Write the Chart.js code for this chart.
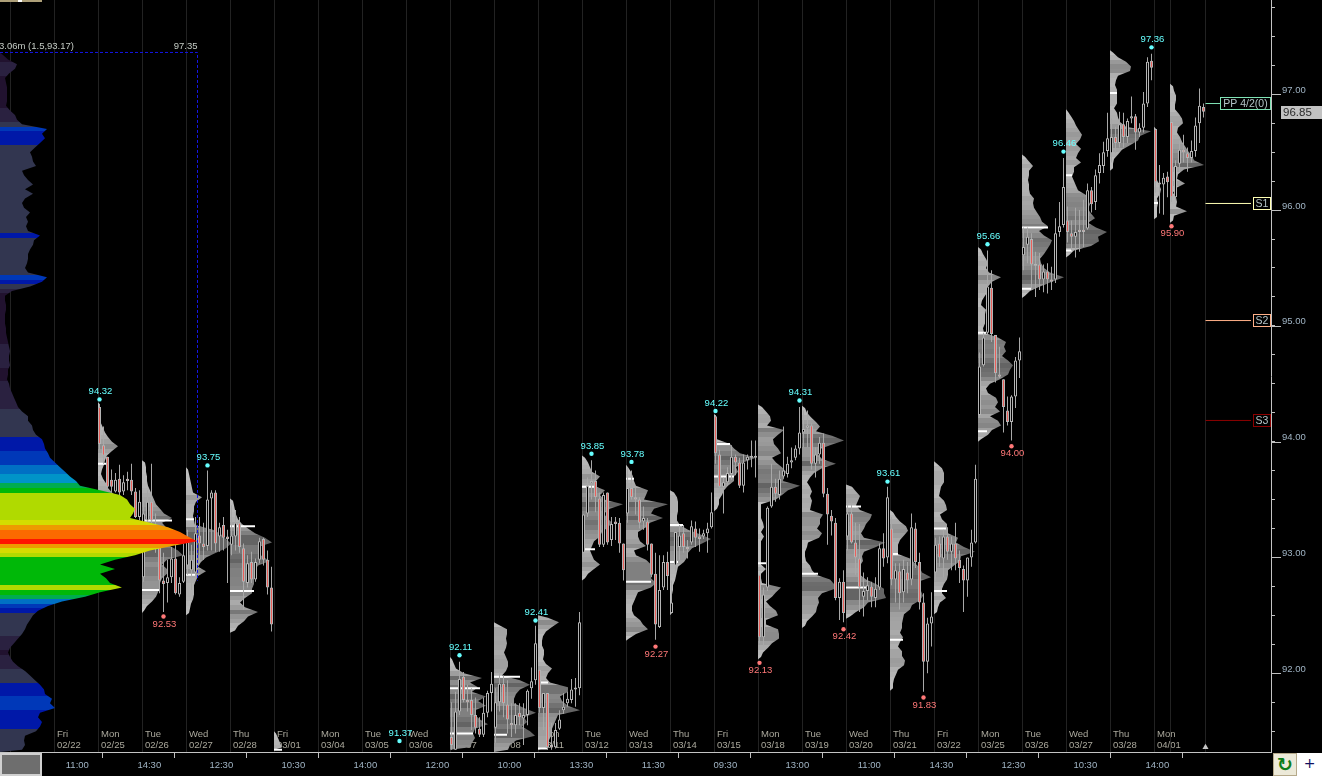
<!DOCTYPE html>
<html>
<head>
<meta charset="utf-8">
<title>Volume profile</title>
<script src="https://cdn.jsdelivr.net/npm/chart.js@4"></script>
<style>
  html, body { margin:0; padding:0; background:#000; overflow:hidden; }
  #wrap { position:relative; width:1322px; height:776px; }
  canvas { position:absolute; left:0; top:0; }
  .w { position:absolute; box-sizing:border-box; }
</style>
</head>
<body>
<div id="wrap">
  <canvas id="chart" width="1322" height="776" style="width:1322px;height:776px"></canvas>
  <div class="w" style="left:0;top:0;width:42px;height:2px;background:#ad9f78"></div>
  <div class="w" style="left:18px;top:0;width:4px;height:2px;background:#fff"></div>
  <div class="w" style="left:0;top:753px;width:42px;height:23px;background:#6e6e6e;border:2px solid #d0d0d0"></div>
  <div class="w" style="left:1273px;top:753px;width:24px;height:23px;background:#ece9d8;border:1px solid #b5a98a;color:#0d7d1a;font:bold 19px 'DejaVu Sans';text-align:center;line-height:21px">↻</div>
  <div class="w" style="left:1297px;top:753px;width:25px;height:23px;background:#fff;color:#101060;font:14px 'DejaVu Sans';text-align:center;line-height:21px">+</div>
</div>

<script>
// ===============================
// DATA
// ===============================
const sessionDays = ["Fri","Mon","Tue","Wed","Thu","Fri","Mon","Tue","Wed","Thu","Fri","Mon","Tue","Wed","Thu","Fri","Mon","Tue","Wed","Thu","Fri","Mon","Tue","Wed","Thu","Mon"];
const sessionDates = ["02/22","02/25","02/26","02/27","02/28","03/01","03/04","03/05","03/06","03/07","03/08","03/11","03/12","03/13","03/14","03/15","03/18","03/19","03/20","03/21","03/22","03/25","03/26","03/27","03/28","04/01"];
const separatorBars = [-0.25,10.75,21.75,32.75,43.75,54.75,65.75,76.75,87.75,98.75,109.75,120.75,131.75,142.75,153.75,164.75,175.75,186.75,197.75,208.75,219.75,230.75,241.75,252.75,263.75,274.75,285.75,289.75,298.5];
const timeTickBars = [13.7,31.7,49.7,67.7,85.7,103.7,121.7,139.7,157.7,175.7,193.7,211.7,229.7,247.7,265.7,283.7];
const timeTickLabels = ["11:00","14:30","12:30","10:30","14:00","12:00","10:00","13:30","11:30","09:30","13:00","11:00","14:30","12:30","10:30","14:00"];

// composite volume profile, one value per 0.04 of price going down from compositeTop
const compositeTop = 97.34;
const compositeVol = [3,8,17,15,9,5,6,7,7,7,7,6,10,15,17,22,47,42,45,40,35,30,32,33,36,22,24,28,33,25,33,25,22,24,30,26,28,26,28,40,34,33,30,28,28,27,25,28,47,42,30,12,5,5,6,6,5,5,5,6,6,7,8,9,10,9,9,10,8,8,7,9,10,12,14,16,18,22,28,28,32,33,36,42,44,45,48,50,55,60,65,70,76,80,100,120,127,130,135,133,130,150,168,180,188,197,172,150,135,115,100,115,100,106,110,122,100,85,62,48,38,33,30,27,25,22,18,14,10,8,10,13,18,25,30,35,40,44,45,52,50,55,40,38,42,40,36,25,24,25,22];

// session profiles, same 0.04 rows
const profFeb25 = [2,2,2,2,3,5,7,10,14,20,14,9,7,6,4,3,5,8,10,14,20,26,30,32,30,34,30];
const profFeb26 = [3,4,4,5,5,6,8,10,12,14,18,22,30,20,24,26,28,26,28,36,41,25,20,25,25,20,18,18,16,14,10,5,2];
const profFeb27 = [2,3,4,5,6,7,16,10,8,8,7,8,9,27,35,40,45,40,30,20,15,12,20,12,10,8,8,8,7,5,4,3];
const profFeb28 = [3,4,5,6,8,12,18,25,35,42,28,28,32,40,28,25,25,24,24,22,22,15,10,15,28,18,14,8,5];
const profMar01 = [2,4,6,8];
const profMar07 = [2,4,6,14,32,20,28,22,36,28,36,25,25,30,38,25,23,25,22,20];
const profMar08 = [4,13,13,12,13,12,10,12,14,14,12,8,26,36,26,22,20,20,30,42,30,33,28,36,41,22,16,14];
const profMar11 = [10,21,14,8,5,4,4,6,6,5,8,14,10,8,12,30,30,22,24,30,42,20,18,16,14,14,12,10,10];
const profMar12 = [3,6,8,10,18,14,12,23,18,22,41,28,22,25,30,26,20,18,12,10,8,10,12,18,12,6,3];
const profMar13 = [2,5,7,8,10,22,20,18,42,28,25,37,24,20,12,12,14,20,8,10,20,25,25,25,25,30,25,12,10,8,6,6,8,14,17,22,10,3];
const profMar14 = [4,7,8,8,8,7,7,10,18,30,41,32,22,18,17,14,8,7,6,5,3,3,2,2,2,2,2];
const profMar15 = [2,2,2,2,2,3,16,20,26,42,29,22,24,20,20,14,10,8,5,5,3];
const profMar18 = [4,8,12,13,9,26,20,15,16,20,23,14,18,24,28,26,25,42,30,24,18,3,3,3,3,5,6,3,6,3,3,3,3,3,3,8,3,3,4,23,18,14,8,12,18,20,8,8,20,21,21,14,10,5,3];
const profMar19 = [3,5,9,14,18,14,30,42,28,16,16,20,34,20,12,8,5,8,10,8,10,9,8,21,18,18,15,20,17,6,5,3,3,4,8,10,14,28,32,33,20,16,17,15,14,10,5,3];
const profMar20 = [6,10,14,12,10,14,26,24,20,18,15,18,39,30,18,16,17,14,12,14,20,30,38,38,40,22,18,10,4];
const profMar21 = [3,6,10,16,18,14,10,8,8,8,20,25,30,32,41,28,28,31,33,30,22,20,14,13,12,12,10,13,10,8,12,12,15,14,8,6,4,3,3];
const profMar22 = [3,8,10,10,10,7,6,5,10,12,13,6,8,13,13,14,24,22,30,41,27,26,20,14,14,13,10,8,8,12,6,4,3];
const profMar25 = [3,5,8,10,8,11,23,14,10,10,7,4,3,8,7,7,7,5,6,20,28,26,28,24,30,35,32,30,22,12,8,10,18,20,17,22,12,20,23,14,10,3];
const profMar26 = [3,7,11,7,7,6,7,7,8,12,11,12,15,18,20,26,17,22,30,28,25,22,18,19,22,28,42,30,18,8,3];
const profMar27 = [2,5,8,10,13,16,14,10,15,12,10,15,8,8,6,8,10,12,20,22,24,22,25,29,22,30,41,32,33,25,8,3];
const profMar28 = [3,8,16,21,20,8,6,5,7,7,7,7,4,7,8,10,16,41,30,28,20,12,8,4,3,3];
const profMar29 = [2,2,2,2,2,2,2,2,2,2,2,3,5,7,6,3,4,3,3,3];
const profApr01 = [3,4,6,6,5,5,9,12,13,8,7,10,12,15,18,22,24,34,14,8,7,15,6,3,6,7,6,17,4,3];

// candles as open, high, low, close
const barsFeb25 = [[94.30,94.32,93.93,93.98],[93.97,94.13,93.81,93.88],[93.87,93.87,93.58,93.61],[93.67,93.76,93.56,93.61],[93.57,93.73,93.56,93.67],[93.68,93.80,93.47,93.56],[93.57,93.71,93.54,93.65],[93.68,93.74,93.58,93.66],[93.67,93.81,93.54,93.57],[93.57,93.60,93.34,93.35],[93.35,93.58,93.32,93.48]];
const barsFeb26 = [[92.83,93.52,92.79,93.38],[93.32,93.58,93.28,93.48],[93.48,93.81,93.25,93.32],[93.15,93.38,93.04,93.24],[93.12,93.15,92.69,92.80],[92.80,93.04,92.53,92.77],[92.78,92.98,92.61,92.83],[92.83,93.09,92.78,92.99],[92.99,93.12,92.68,92.69],[92.68,92.83,92.66,92.78],[92.79,93.12,92.78,93.02]];
const barsFeb27 = [[92.93,93.24,92.85,93.15],[92.89,93.11,92.72,92.98],[92.87,93.35,92.83,93.21],[93.19,93.35,92.95,93.12],[93.12,93.30,92.98,93.09],[93.10,93.75,93.06,93.50],[93.51,93.58,93.06,93.56],[93.56,93.58,93.05,93.12],[93.18,93.30,93.05,93.26],[93.28,93.35,93.06,93.17],[93.18,93.24,92.78,93.16]];
const barsFeb28 = [[93.11,93.45,93.02,93.19],[93.18,93.41,93.06,93.30],[93.30,93.35,93.04,93.09],[93.08,93.12,92.55,92.79],[92.78,93.02,92.74,92.95],[92.96,93.05,92.78,92.81],[92.81,92.99,92.79,92.96],[92.98,93.17,92.95,93.14],[93.16,93.17,92.93,92.98],[92.98,93.06,92.68,92.74],[92.74,92.92,92.36,92.42]];
const barsMar07 = [[91.45,91.75,91.34,91.38],[91.34,91.84,91.34,91.67],[91.67,92.10,91.64,91.95],[91.97,92.01,91.75,91.77],[91.77,91.90,91.67,91.75],[91.77,91.87,91.51,91.64],[91.64,91.79,91.48,91.53],[91.52,91.62,91.45,91.47],[91.47,91.79,91.45,91.66],[91.66,91.85,91.62,91.83],[91.83,92.01,91.67,91.91]];
const barsMar08 = [[91.53,91.87,91.40,91.75],[91.75,92.01,91.67,91.91],[91.91,91.98,91.62,91.74],[91.73,91.94,91.48,91.60],[91.57,91.74,91.45,91.55],[91.55,91.74,91.48,91.64],[91.66,91.74,91.55,91.62],[91.61,91.74,91.38,91.64],[91.64,91.86,91.55,91.85],[91.87,92.05,91.78,91.93],[91.94,92.41,91.90,92.26]];
const barsMar11 = [[92.03,92.03,91.66,91.70],[91.70,91.83,91.51,91.83],[91.83,91.83,91.34,91.36],[91.38,91.57,91.34,91.36],[91.36,91.57,91.35,91.51],[91.52,91.68,91.51,91.60],[91.68,91.83,91.65,91.71],[91.74,91.84,91.71,91.78],[91.77,91.95,91.74,91.86],[91.86,91.96,91.71,91.87],[91.87,92.53,91.81,92.44]];
const barsMar12 = [[93.04,93.37,93.00,93.37],[93.38,93.69,93.35,93.62],[93.64,93.84,93.50,93.66],[93.66,93.75,93.39,93.52],[93.51,93.56,93.09,93.11],[93.11,93.56,93.09,93.54],[93.56,93.56,93.11,93.13],[93.15,93.35,93.10,93.29],[93.31,93.35,93.15,93.29],[93.30,93.34,93.04,93.12],[93.12,93.12,92.80,92.89]];
const barsMar13 = [[93.38,93.78,93.30,93.60],[93.60,93.75,93.50,93.52],[93.52,93.60,93.37,93.50],[93.50,93.52,93.25,93.30],[93.31,93.44,93.24,93.34],[93.31,93.34,93.06,93.11],[93.12,93.12,92.83,92.85],[92.86,93.04,92.29,92.42],[92.40,93.02,92.39,92.72],[92.74,93.02,92.72,92.96],[92.96,93.05,92.72,92.84]];
const barsMar14 = [[92.52,92.80,92.52,92.61],[92.93,93.22,92.88,93.22],[93.09,93.28,92.98,93.19],[93.21,93.28,93.04,93.09],[93.09,93.15,92.99,93.07],[93.13,93.32,93.11,93.27],[93.25,93.31,93.09,93.17],[93.18,93.25,93.05,93.16],[93.18,93.24,93.16,93.21],[93.21,93.30,93.04,93.25],[93.26,93.56,93.25,93.39]];
const barsMar15 = [[94.22,94.23,93.81,93.90],[93.89,93.93,93.56,93.61],[93.61,93.69,93.38,93.65],[93.65,93.78,93.62,93.73],[93.72,93.97,93.67,93.87],[93.87,93.89,93.71,93.82],[93.82,93.86,93.60,93.62],[93.62,93.89,93.56,93.82],[93.84,93.89,93.76,93.87],[93.87,94.01,93.78,93.86],[93.87,94.01,93.69,93.86]];
const barsMar18 = [[92.85,92.85,92.26,92.31],[92.31,92.74,92.23,92.68],[92.74,93.44,92.71,93.43],[93.44,93.81,93.43,93.61],[93.61,93.68,93.48,93.55],[93.54,93.75,93.50,93.68],[93.70,94.13,93.68,93.75],[93.72,93.87,93.69,93.81],[93.82,93.95,93.77,93.84],[93.86,93.97,93.84,93.94],[93.94,94.30,93.89,94.08]];
const barsMar19 = [[94.08,94.27,93.95,94.11],[94.12,94.27,93.95,94.14],[94.14,94.16,93.76,93.81],[93.81,93.95,93.69,93.89],[93.89,94.04,93.81,93.99],[93.99,94.07,93.52,93.55],[93.55,93.60,93.11,93.37],[93.36,93.41,93.19,93.31],[93.30,93.34,92.63,92.65],[92.65,92.82,92.46,92.79],[92.79,92.89,92.44,92.52]];
const barsMar20 = [[93.18,93.48,93.06,93.38],[93.38,93.48,93.12,93.13],[93.13,93.30,92.85,93.00],[92.99,93.29,92.53,92.74],[92.66,92.87,92.49,92.71],[92.71,92.83,92.63,92.76],[92.75,92.79,92.57,92.66],[92.65,92.83,92.57,92.73],[92.74,93.12,92.72,93.08],[93.08,93.21,92.92,92.99],[93.00,93.61,92.95,93.52]];
const barsMar21 = [[93.25,93.35,92.76,92.81],[92.81,92.95,92.61,92.89],[92.88,92.95,92.55,92.69],[92.70,92.98,92.61,92.90],[92.87,92.96,92.69,92.80],[92.81,93.38,92.76,93.26],[93.25,93.30,92.91,92.96],[92.96,93.04,92.55,92.61],[92.61,92.69,91.84,92.10],[92.10,92.48,92.00,92.43],[92.43,92.70,92.23,92.49]];
const barsMar22 = [[92.87,93.17,92.80,93.11],[93.12,93.18,92.92,93.00],[92.99,93.24,92.83,93.18],[93.18,93.26,92.98,93.05],[93.05,93.18,92.89,93.12],[93.12,93.30,92.89,92.99],[92.98,93.06,92.78,92.91],[92.90,92.93,92.53,92.80],[92.80,93.00,92.66,93.00],[93.00,93.24,92.92,93.13],[93.13,93.80,93.12,93.68]];
const barsMar25 = [[94.23,94.77,94.21,94.65],[94.66,94.94,94.65,94.90],[94.94,95.65,94.92,95.34],[95.33,95.48,94.86,94.93],[94.92,94.92,94.51,94.59],[94.58,94.82,94.55,94.56],[94.54,94.54,94.08,94.30],[94.27,94.39,94.14,94.17],[94.17,94.40,94.01,94.39],[94.39,94.73,94.29,94.70],[94.70,94.90,94.55,94.78]];
const barsMar26 = [[95.61,95.85,95.48,95.68],[95.70,95.85,95.54,95.77],[95.75,95.80,95.31,95.53],[95.53,95.64,95.25,95.52],[95.53,95.63,95.31,95.40],[95.40,95.53,95.29,95.47],[95.47,95.54,95.28,95.40],[95.40,95.51,95.31,95.38],[95.40,95.93,95.37,95.80],[95.81,96.07,95.77,95.86],[95.87,96.45,95.85,96.20]];
const barsMar27 = [[95.91,96.03,95.72,95.81],[95.80,95.91,95.65,95.77],[95.77,96.02,95.59,95.81],[95.83,96.00,95.64,95.81],[95.83,96.09,95.68,95.81],[95.84,96.23,95.83,96.17],[96.17,96.20,95.98,96.05],[96.07,96.35,96.00,96.30],[96.32,96.49,96.23,96.39],[96.38,96.59,96.32,96.50],[96.51,96.84,96.46,96.62]];
const barsMar28 = [[96.49,96.79,96.41,96.63],[96.63,96.72,96.49,96.58],[96.58,96.85,96.54,96.74],[96.74,96.84,96.54,96.63],[96.63,96.79,96.58,96.77],[96.79,96.98,96.75,96.81],[96.81,96.83,96.52,96.67],[96.67,96.75,96.63,96.71],[96.71,97.02,96.67,96.92],[96.92,97.32,96.89,97.28],[97.29,97.35,97.12,97.23]];
const barsMar29 = [[96.70,96.70,96.15,96.24],[96.23,96.39,95.97,96.22],[96.22,96.32,95.96,96.28],[96.29,96.33,96.11,96.24]];
const barsApr01 = [[96.76,96.76,96.07,96.11],[96.11,96.43,96.09,96.38],[96.40,96.60,96.33,96.52],[96.52,96.65,96.41,96.50],[96.49,96.54,96.33,96.45],[96.45,96.60,96.41,96.51],[96.51,96.80,96.46,96.73],[96.75,97.05,96.58,96.90],[96.89,96.92,96.80,96.85]];

// value area marks: session start bar, price, width
const markBars = [21.625,32.625,32.625,43.625,43.625,54.625,54.625,65.625,109.625,109.625,120.625,120.625,131.625,131.625,142.625,142.625,153.625,153.625,164.625,164.625,175.625,175.625,186.625,197.625,208.625,208.625,219.625,219.625,230.625,230.625,241.625,241.625,252.625,252.625,263.625,263.625,274.625,285.625,289.625];
const markPrices = [93.81,93.32,92.72,93.33,92.85,93.27,92.71,91.34,91.87,91.48,91.97,91.47,91.92,91.35,93.61,93.07,93.68,92.79,93.28,92.96,93.98,93.70,92.95,92.86,93.44,92.74,93.03,92.29,93.25,92.71,94.94,94.09,95.85,95.32,96.30,95.65,97.01,96.06,96.71];
const markWidths = [8,30,18,8,10,25,24,8,30,23,26,13,10,10,13,13,8,25,13,8,16,20,8,16,15,20,8,13,12,13,8,9,26,9,6,6,7,4,3];

// swing highs and lows
const highBars = [22,49,112,131,145,155,176,197,219,244,263,285,97];
const highPrices = [94.32,93.75,92.11,92.41,93.85,93.78,94.22,94.31,93.61,95.66,96.46,97.36,91.37];
const lowBars = [38,161,187,208,228,250,290];
const lowPrices = [92.53,92.27,92.13,92.42,91.83,94.00,95.90];

// pivot levels
const levelNames = ["PP 4/2(0)","S1","S2","S3"];
const levelPrices = [96.92,96.057,95.046,94.183];
const levelColors = ["#7fe3b5","#ffffb4","#ffb088","#8c0000"];
const lastPrice = 96.85;
const compositeHigh = 97.361;
const compositeLabel = "3.06m (1.5,93.17)";
const compositeHighLabel = "97.35";

// ===============================
// AXIS RANGE
// ===============================
const xMin = -2.875, xMax = 314.875;
const yMin = 91.32, yMax = 97.814;
const rowStep = 0.04;
const barsPerVol = 0.25;
const font = "9.5px 'Liberation Sans'";

// ===============================
// COLOURS
// ===============================
function sessionShade(v){
  let g = Math.max(100, Math.round(198 - v * 2.8));
  return `rgb(${g},${g},${g})`;
}

function compositeColor(v){
  if(v < 9) return "#21122f";
  if(v < 20) return "#2a2140";
  if(v < 38) return "#323650";
  if(v < 46) return "#0018a8";
  if(v < 58) return "#0038b8";
  if(v < 68) return "#0070c4";
  if(v < 80) return "#0094c8";
  if(v < 90) return "#00ac50";
  if(v < 118) return "#00b808";
  if(v < 140) return "#b0da00";
  if(v < 165) return "#d4dc00";
  if(v < 178) return "#ee9a00";
  if(v < 192) return "#fb6a00";
  return "#ff1400";
}

// ===============================
// DATASET BUILDERS
// ===============================
function profileDataset(startBar, top, vols, colorFn){
  let pts = [{x:startBar, y:top + rowStep / 2}];
  vols.forEach((v, i) => pts.push({x:startBar + v * barsPerVol, y:top - i * rowStep}));
  pts.push({x:startBar, y:top - (vols.length - 0.5) * rowStep});
  return {
    type:"line", data:pts, order: colorFn === compositeColor ? 30 : 50,
    borderWidth:0, pointRadius:0, tension:0,
    profileVols:vols, profileColor:colorFn
  };
}

const sessionProfiles = [
  [21.625,94.32,profFeb25],[32.625,93.82,profFeb26],[43.625,93.76,profFeb27],[54.625,93.49,profFeb28],
  [65.625,91.48,profMar01],[109.625,92.12,profMar07],[120.625,92.42,profMar08],[131.625,92.48,profMar11],
  [142.625,93.86,profMar12],[153.625,93.78,profMar13],[164.625,93.56,profMar14],[175.625,94.22,profMar15],
  [186.625,94.30,profMar18],[197.625,94.29,profMar19],[208.625,93.61,profMar20],[219.625,93.39,profMar21],
  [230.625,93.81,profMar22],[241.625,95.66,profMar25],[252.625,96.46,profMar26],[263.625,96.85,profMar27],
  [274.625,97.36,profMar28],[285.625,96.70,profMar29],[289.625,97.07,profApr01]
];

const candleBlocks = [
  [22,barsFeb25],[33,barsFeb26],[44,barsFeb27],[55,barsFeb28],[110,barsMar07],[121,barsMar08],[132,barsMar11],
  [143,barsMar12],[154,barsMar13],[165,barsMar14],[176,barsMar15],[187,barsMar18],[198,barsMar19],[209,barsMar20],
  [220,barsMar21],[231,barsMar22],[242,barsMar25],[253,barsMar26],[264,barsMar27],[275,barsMar28],[286,barsMar29],[290,barsApr01]
];

let wicks = [], bodies = [], bodyFill = [];
candleBlocks.forEach(([start, rows]) => {
  rows.forEach((r, i) => {
    wicks.push({x:start + i, y:[r[2], r[1]]});
    bodies.push({x:start + i, y:[Math.min(r[0], r[3]), Math.max(r[0], r[3])]});
    bodyFill.push(r[0] > r[3] ? "#ea5f5a" : "#000000");
  });
});

let separators = [];
separatorBars.forEach(b => separators.push({x:b, y:yMin}, {x:b, y:yMax}, {x:null, y:null}));

let marks = [];
markBars.forEach((b, i) => {
  marks.push({x:b, y:markPrices[i]}, {x:b + markWidths[i] * barsPerVol, y:markPrices[i]}, {x:null, y:null});
});

const levelStartBar = 298.5;
const levelSets = levelPrices.map((p, i) => ({
  type:"line", order:20, borderColor:levelColors[i], borderWidth:1, pointRadius:0,
  data:[{x:levelStartBar, y:p}, {x:i === 0 ? 302.125 : 309.875, y:p}]
}));

const datasets = [
  {type:"line", order:60, data:separators, borderColor:"#222222", borderWidth:1, pointRadius:0},
  ...sessionProfiles.map(s => profileDataset(s[0], s[1], s[2], sessionShade)),
  {type:"line", order:45, data:marks, borderColor:"#ffffff", borderWidth:2, pointRadius:0},
  {type:"bar", order:40, data:wicks, backgroundColor:"#a8a8a8", grouped:false, barPercentage:1, maxBarThickness:1, borderWidth:0, inflateAmount:0},
  {type:"bar", order:35, data:bodies, backgroundColor:bodyFill, borderColor:"#b4b4b4", borderWidth:1, borderSkipped:false, grouped:false, barPercentage:1, maxBarThickness:3, minBarLength:2, inflateAmount:0},
  profileDataset(xMin, compositeTop, compositeVol, compositeColor),
  {type:"line", order:20, borderColor:"#1414e6", borderWidth:1, borderDash:[3,2], pointRadius:0,
   data:[{x:xMin, y:compositeHigh}, {x:46.5, y:compositeHigh}, {x:46.5, y:92.80}]},
  ...levelSets,
  {type:"line", order:10, label:"highs", showLine:false, pointRadius:2.2, pointBackgroundColor:"#66ffff", pointBorderWidth:0,
   data:highBars.map((b, i) => ({x:b, y:highPrices[i] + 0.045}))},
  {type:"line", order:10, label:"lows", showLine:false, pointRadius:2.2, pointBackgroundColor:"#ff7878", pointBorderWidth:0,
   data:lowBars.map((b, i) => ({x:b, y:lowPrices[i] - 0.04}))},
  {type:"line", order:10, showLine:false, pointStyle:"triangle", pointRadius:3.5, pointBackgroundColor:"#c4c4c4", pointBorderWidth:0,
   data:[{x:298.5, y:91.36}]}
];

// ===============================
// PROFILE FILL
// ===============================
// fills each profile silhouette from its own line points, one flat colour band per row
const profileFill = {
  id:"profileFill",
  beforeDatasetDraw(chart, args){
    const ds = chart.data.datasets[args.index];
    if(!ds.profileVols) return;
    const pts = args.meta.data;
    const {ctx, chartArea} = chart;
    const y0 = pts[0].y, y1 = pts[pts.length - 1].y;
    const span = y1 - y0;
    const rows = ds.profileVols.length;
    const grad = ctx.createLinearGradient(0, y0, 0, y1);
    ds.profileVols.forEach((v, i) => {
      let c = ds.profileColor(v);
      grad.addColorStop(i / rows, c);
      grad.addColorStop((i + 1) / rows, c);
    });
    ctx.save();
    ctx.beginPath();
    ctx.rect(chartArea.left, chartArea.top, chartArea.width, chartArea.height);
    ctx.clip();
    ctx.beginPath();
    pts.forEach((p, i) => i ? ctx.lineTo(p.x, p.y) : ctx.moveTo(p.x, p.y));
    ctx.closePath();
    ctx.fillStyle = grad;
    ctx.fill();
    ctx.restore();
  }
};

// ===============================
// TEXT AND AXIS EXTRAS
// ===============================
const dateLabels = {
  id:"dateLabels",
  beforeDatasetsDraw(chart){
    const {ctx, scales:{x}, chartArea} = chart;
    ctx.save();
    ctx.font = font;
    ctx.fillStyle = "#aaa89c";
    ctx.textBaseline = "middle";
    sessionDays.forEach((d, i) => {
      let px = x.getPixelForValue(separatorBars[i + 1]) + 2.5;
      ctx.fillText(d, px, chartArea.bottom - 18);
      ctx.fillText(sessionDates[i], px, chartArea.bottom - 7);
    });
    ctx.restore();
  }
};

const overlays = {
  id:"overlays",
  afterDraw(chart){
    const {ctx, scales:{x, y}, chartArea} = chart;
    ctx.save();
    ctx.font = font;
    ctx.textBaseline = "middle";

    // major ticks on the price axis
    ctx.strokeStyle = "#c0c0c0";
    ctx.beginPath();
    y.ticks.forEach(t => {
      if(Number.isInteger(t.value)){
        let py = Math.round(y.getPixelForValue(t.value)) + 0.5;
        ctx.moveTo(chartArea.right, py);
        ctx.lineTo(chartArea.right + 10, py);
      }
    });
    ctx.stroke();

    // swing labels
    ctx.textAlign = "center";
    ctx.fillStyle = "#66ffff";
    highBars.forEach((b, i) => {
      ctx.fillText(highPrices[i].toFixed(2), x.getPixelForValue(b) + 1, y.getPixelForValue(highPrices[i]) - 13);
    });
    ctx.fillStyle = "#ff7878";
    lowBars.forEach((b, i) => {
      ctx.fillText(lowPrices[i].toFixed(2), x.getPixelForValue(b) + 1, y.getPixelForValue(lowPrices[i]) + 12);
    });

    // composite caption
    let capY = y.getPixelForValue(compositeHigh) - 6;
    ctx.fillStyle = "#c4cbc4";
    ctx.textAlign = "left";
    ctx.fillText(compositeLabel, -1, capY);
    ctx.textAlign = "right";
    ctx.fillText(compositeHighLabel, x.getPixelForValue(46.5), capY);

    // pivot boxes
    ctx.textAlign = "center";
    levelNames.forEach((name, i) => {
      let w = i === 0 ? 51 : 18;
      let py = Math.floor(y.getPixelForValue(levelPrices[i]));
      ctx.fillStyle = "#000";
      ctx.strokeStyle = levelColors[i];
      ctx.fillRect(chartArea.right - w, py - 6, w, 13);
      ctx.strokeRect(chartArea.right - w + 0.5, py - 5.5, w - 1, 12);
      ctx.fillStyle = "#b4c4c8";
      ctx.font = "10.5px 'Liberation Sans'";
      ctx.fillText(name, chartArea.right - w / 2, py + 1);
      ctx.font = font;
    });

    // last price tag
    let ly = Math.round(y.getPixelForValue(lastPrice));
    ctx.fillStyle = "#c2c2c2";
    ctx.fillRect(1281, ly - 6, 41, 13);
    ctx.fillStyle = "#2c2c2c";
    ctx.textAlign = "left";
    ctx.font = "11.5px 'Liberation Sans'";
    ctx.fillText(lastPrice.toFixed(2), 1283, ly + 1);
    ctx.restore();
  }
};

// ===============================
// CHART
// ===============================
Chart.defaults.font.family = "Liberation Sans";
Chart.defaults.font.size = 9.5;

function clearPadding(s){
  s.paddingTop = 0;
  s.paddingBottom = 0;
  s.paddingLeft = 0;
  s.paddingRight = 0;
}

new Chart(document.getElementById("chart").getContext("2d"), {
  type:"bar",
  data:{ datasets },
  options:{
    responsive:false,
    animation:false,
    devicePixelRatio:1,
    events:[],
    layout:{ padding:0, autoPadding:false },
    plugins:{ legend:{display:false}, tooltip:{enabled:false} },
    scales:{
      x:{
        type:"linear", position:"bottom", min:xMin, max:xMax, offset:false,
        grid:{ drawOnChartArea:false, drawTicks:true, tickLength:6, tickColor:"#c0c0c0" },
        border:{ color:"#c4c4c4" },
        afterBuildTicks: s => { s.ticks = timeTickBars.map(v => ({value:v})); },
        afterFit: s => { s.height = 24; clearPadding(s); },
        ticks:{
          autoSkip:false, maxRotation:0, minRotation:0, color:"#a0b4c4", padding:2, labelOffset:11,
          callback:(v, i) => timeTickLabels[i]
        }
      },
      y:{
        type:"linear", position:"right", min:yMin, max:yMax,
        grid:{ drawOnChartArea:false, drawTicks:true, tickLength:4, tickColor:"#c0c0c0" },
        border:{ color:"#c4c4c4" },
        afterFit: s => { s.width = 51; clearPadding(s); },
        ticks:{
          stepSize:0.25, includeBounds:false, autoSkip:false, color:"#a0b4c4", padding:7, labelOffset:-4,
          callback: v => Number.isInteger(v) ? v.toFixed(2) : ""
        }
      }
    }
  },
  plugins:[profileFill, dateLabels, overlays]
});
</script>
</body>
</html>
